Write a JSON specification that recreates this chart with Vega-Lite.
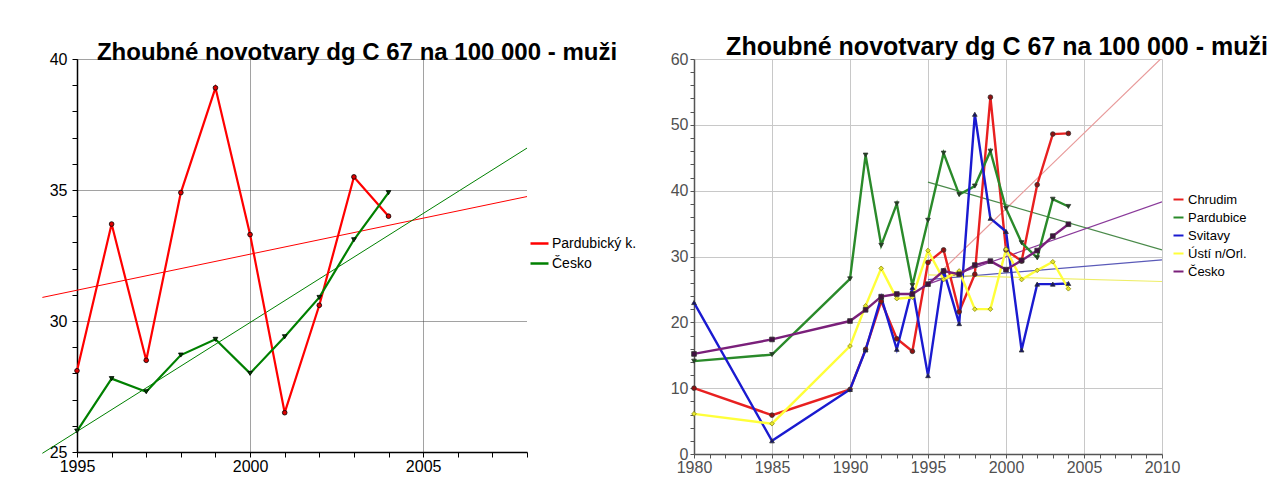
{
  "$schema": "https://vega.github.io/schema/vega-lite/v6.json",
  "background": "white",
  "padding": {"left": 40, "top": 35, "right": 0, "bottom": 0},
  "bounds": "flush",
  "spacing": 167,
  "config": {
    "font": "Liberation Sans",
    "view": {"stroke": null},
    "axis": {"labelFont": "Liberation Sans", "labelOverlap": false, "labelFlush": false}
  },
  "datasets": {
    "left": [
      {"year": 1995, "value": 28.1, "series": "Pardubický k."},
      {"year": 1996, "value": 33.7, "series": "Pardubický k."},
      {"year": 1997, "value": 28.5, "series": "Pardubický k."},
      {"year": 1998, "value": 34.9, "series": "Pardubický k."},
      {"year": 1999, "value": 38.9, "series": "Pardubický k."},
      {"year": 2000, "value": 33.3, "series": "Pardubický k."},
      {"year": 2001, "value": 26.5, "series": "Pardubický k."},
      {"year": 2002, "value": 30.6, "series": "Pardubický k."},
      {"year": 2003, "value": 35.5, "series": "Pardubický k."},
      {"year": 2004, "value": 34.0, "series": "Pardubický k."},
      {"year": 1995, "value": 25.8, "series": "Česko"},
      {"year": 1996, "value": 27.8, "series": "Česko"},
      {"year": 1997, "value": 27.3, "series": "Česko"},
      {"year": 1998, "value": 28.7, "series": "Česko"},
      {"year": 1999, "value": 29.3, "series": "Česko"},
      {"year": 2000, "value": 28.0, "series": "Česko"},
      {"year": 2001, "value": 29.4, "series": "Česko"},
      {"year": 2002, "value": 30.9, "series": "Česko"},
      {"year": 2003, "value": 33.1, "series": "Česko"},
      {"year": 2004, "value": 34.9, "series": "Česko"}
    ],
    "leftTrend": [
      {"year": 1994, "value": 30.9, "series": "Pardubický k."},
      {"year": 2008, "value": 34.75, "series": "Pardubický k."},
      {"year": 1994, "value": 24.95, "series": "Česko"},
      {"year": 2008, "value": 36.6, "series": "Česko"}
    ],
    "right": [
      {"year": 1980, "value": 10.0, "series": "Chrudim"},
      {"year": 1985, "value": 5.9, "series": "Chrudim"},
      {"year": 1990, "value": 9.8, "series": "Chrudim"},
      {"year": 1991, "value": 15.9, "series": "Chrudim"},
      {"year": 1992, "value": 23.2, "series": "Chrudim"},
      {"year": 1993, "value": 17.5, "series": "Chrudim"},
      {"year": 1994, "value": 15.6, "series": "Chrudim"},
      {"year": 1995, "value": 29.1, "series": "Chrudim"},
      {"year": 1996, "value": 31.0, "series": "Chrudim"},
      {"year": 1997, "value": 21.6, "series": "Chrudim"},
      {"year": 1998, "value": 27.3, "series": "Chrudim"},
      {"year": 1999, "value": 54.2, "series": "Chrudim"},
      {"year": 2000, "value": 31.0, "series": "Chrudim"},
      {"year": 2001, "value": 29.3, "series": "Chrudim"},
      {"year": 2002, "value": 40.9, "series": "Chrudim"},
      {"year": 2003, "value": 48.6, "series": "Chrudim"},
      {"year": 2004, "value": 48.7, "series": "Chrudim"},
      {"year": 1980, "value": 14.1, "series": "Pardubice"},
      {"year": 1985, "value": 15.1, "series": "Pardubice"},
      {"year": 1990, "value": 26.6, "series": "Pardubice"},
      {"year": 1991, "value": 45.4, "series": "Pardubice"},
      {"year": 1992, "value": 31.7, "series": "Pardubice"},
      {"year": 1993, "value": 38.0, "series": "Pardubice"},
      {"year": 1994, "value": 25.6, "series": "Pardubice"},
      {"year": 1995, "value": 35.5, "series": "Pardubice"},
      {"year": 1996, "value": 45.7, "series": "Pardubice"},
      {"year": 1997, "value": 39.4, "series": "Pardubice"},
      {"year": 1998, "value": 40.7, "series": "Pardubice"},
      {"year": 1999, "value": 46.0, "series": "Pardubice"},
      {"year": 2000, "value": 37.3, "series": "Pardubice"},
      {"year": 2001, "value": 32.1, "series": "Pardubice"},
      {"year": 2002, "value": 29.8, "series": "Pardubice"},
      {"year": 2003, "value": 38.7, "series": "Pardubice"},
      {"year": 2004, "value": 37.6, "series": "Pardubice"},
      {"year": 1980, "value": 23.0, "series": "Svitavy"},
      {"year": 1985, "value": 2.0, "series": "Svitavy"},
      {"year": 1990, "value": 9.8, "series": "Svitavy"},
      {"year": 1991, "value": 15.8, "series": "Svitavy"},
      {"year": 1992, "value": 23.8, "series": "Svitavy"},
      {"year": 1993, "value": 15.9, "series": "Svitavy"},
      {"year": 1994, "value": 25.3, "series": "Svitavy"},
      {"year": 1995, "value": 11.9, "series": "Svitavy"},
      {"year": 1996, "value": 27.9, "series": "Svitavy"},
      {"year": 1997, "value": 19.8, "series": "Svitavy"},
      {"year": 1998, "value": 51.6, "series": "Svitavy"},
      {"year": 1999, "value": 35.8, "series": "Svitavy"},
      {"year": 2000, "value": 33.8, "series": "Svitavy"},
      {"year": 2001, "value": 15.8, "series": "Svitavy"},
      {"year": 2002, "value": 25.8, "series": "Svitavy"},
      {"year": 2003, "value": 25.8, "series": "Svitavy"},
      {"year": 2004, "value": 25.9, "series": "Svitavy"},
      {"year": 1980, "value": 6.1, "series": "Ústí n/Orl."},
      {"year": 1985, "value": 4.6, "series": "Ústí n/Orl."},
      {"year": 1990, "value": 16.4, "series": "Ústí n/Orl."},
      {"year": 1991, "value": 22.5, "series": "Ústí n/Orl."},
      {"year": 1992, "value": 28.2, "series": "Ústí n/Orl."},
      {"year": 1993, "value": 23.6, "series": "Ústí n/Orl."},
      {"year": 1994, "value": 23.8, "series": "Ústí n/Orl."},
      {"year": 1995, "value": 30.9, "series": "Ústí n/Orl."},
      {"year": 1996, "value": 26.5, "series": "Ústí n/Orl."},
      {"year": 1997, "value": 27.8, "series": "Ústí n/Orl."},
      {"year": 1998, "value": 22.0, "series": "Ústí n/Orl."},
      {"year": 1999, "value": 22.0, "series": "Ústí n/Orl."},
      {"year": 2000, "value": 31.1, "series": "Ústí n/Orl."},
      {"year": 2001, "value": 26.5, "series": "Ústí n/Orl."},
      {"year": 2002, "value": 27.9, "series": "Ústí n/Orl."},
      {"year": 2003, "value": 29.2, "series": "Ústí n/Orl."},
      {"year": 2004, "value": 25.1, "series": "Ústí n/Orl."},
      {"year": 1980, "value": 15.2, "series": "Česko"},
      {"year": 1985, "value": 17.4, "series": "Česko"},
      {"year": 1990, "value": 20.2, "series": "Česko"},
      {"year": 1991, "value": 21.9, "series": "Česko"},
      {"year": 1992, "value": 23.9, "series": "Česko"},
      {"year": 1993, "value": 24.3, "series": "Česko"},
      {"year": 1994, "value": 24.3, "series": "Česko"},
      {"year": 1995, "value": 25.8, "series": "Česko"},
      {"year": 1996, "value": 27.8, "series": "Česko"},
      {"year": 1997, "value": 27.3, "series": "Česko"},
      {"year": 1998, "value": 28.7, "series": "Česko"},
      {"year": 1999, "value": 29.3, "series": "Česko"},
      {"year": 2000, "value": 28.0, "series": "Česko"},
      {"year": 2001, "value": 29.4, "series": "Česko"},
      {"year": 2002, "value": 30.9, "series": "Česko"},
      {"year": 2003, "value": 33.1, "series": "Česko"},
      {"year": 2004, "value": 34.9, "series": "Česko"}
    ],
    "rightTrend": [
      {"year": 1995, "value": 25.8, "series": "Chrudim"},
      {"year": 2010, "value": 60.2, "series": "Chrudim"},
      {"year": 1995, "value": 41.3, "series": "Pardubice"},
      {"year": 2010, "value": 31.0, "series": "Pardubice"},
      {"year": 1995, "value": 26.5, "series": "Svitavy"},
      {"year": 2010, "value": 29.5, "series": "Svitavy"},
      {"year": 1995, "value": 27.2, "series": "Ústí n/Orl."},
      {"year": 2010, "value": 26.2, "series": "Ústí n/Orl."},
      {"year": 1995, "value": 25.8, "series": "Česko"},
      {"year": 2010, "value": 38.3, "series": "Česko"}
    ]
  },
  "resolve": {"scale": {"color": "independent"}, "legend": {"color": "independent"}},
  "hconcat": [
    {
      "width": 450,
      "height": 393,
      "title": {"text": "Zhoubné novotvary dg C 67 na 100 000 - muži", "fontSize": 24, "fontWeight": "bold", "color": "#000000", "anchor": "middle", "dx": 55, "dy": 29, "offset": -4, "baseline": "alphabetic", "font": "Liberation Sans"},
      "encoding": {
        "x": {"field": "year", "type": "quantitative", "scale": {"domain": [1995, 2008], "nice": false, "zero": false},
          "axis": {"title": null, "values": [1995,1996,1997,1998,1999,2000,2001,2002,2003,2004,2005,2006,2007,2008], "format": "d",
            "labelExpr": "datum.value % 5 === 0 ? datum.label : ''",
            "grid": true, "gridColor": "#444444", "gridDash": [1, 1], "gridWidth": 1,
            "gridOpacity": {"condition": {"test": "datum.value % 5 === 0", "value": 1}, "value": 0},
            "domainColor": "#000000", "domainWidth": 1.5, "tickColor": "#000000", "tickSize": 5, "tickWidth": 1,
            "labelFontSize": 16, "labelColor": "#000000", "labelPadding": 1}},
        "y": {"field": "value", "type": "quantitative", "scale": {"domain": [25, 40], "nice": false, "zero": false},
          "axis": {"title": null, "values": [25,26,27,28,29,30,31,32,33,34,35,36,37,38,39,40],
            "labelExpr": "datum.value % 5 === 0 ? datum.label : ''",
            "grid": true, "gridColor": "#444444", "gridDash": [1, 1], "gridWidth": 1,
            "gridOpacity": {"condition": {"test": "datum.value % 5 === 0", "value": 1}, "value": 0},
            "domainColor": "#000000", "domainWidth": 1.5, "tickColor": "#000000", "tickSize": 5, "tickWidth": 1,
            "labelFontSize": 16, "labelColor": "#000000", "labelPadding": 5}}
      },
      "layer": [
        {
          "data": {"name": "leftTrend"},
          "mark": {"type": "line", "strokeWidth": 1, "clip": false},
          "encoding": {
            "color": {"field": "series", "type": "nominal", "scale": {"domain": ["Pardubický k.", "Česko"], "range": ["#ff0000", "#008000"]},
              "legend": {"title": null, "orient": "none", "legendX": 452, "legendY": 174, "symbolType": "stroke", "symbolStrokeWidth": 2.5, "symbolSize": 324, "labelFontSize": 14, "labelColor": "#000000", "labelFont": "Liberation Sans", "rowPadding": 2, "labelOffset": 2}}
          }
        },
        {
          "data": {"name": "left"},
          "mark": {"type": "line", "strokeWidth": 2.2},
          "encoding": {
            "color": {"field": "series", "type": "nominal", "scale": {"domain": ["Pardubický k.", "Česko"], "range": ["#ff0000", "#008000"]},
              "legend": {"title": null, "orient": "none", "legendX": 452, "legendY": 174, "symbolType": "stroke", "symbolStrokeWidth": 2.5, "symbolSize": 324, "labelFontSize": 14, "labelColor": "#000000", "labelFont": "Liberation Sans", "rowPadding": 2, "labelOffset": 2}}
          }
        },
        {
          "data": {"name": "left"},
          "transform": [{"filter": {"field": "series", "equal": "Pardubický k."}}],
          "mark": {"type": "point", "shape": "circle", "filled": true, "size": 22, "fill": "#dd0000", "stroke": "#000000", "strokeWidth": 0.8, "opacity": 1}
        },
        {
          "data": {"name": "left"},
          "transform": [{"filter": {"field": "series", "equal": "Česko"}}],
          "mark": {"type": "point", "shape": "triangle-down", "filled": true, "size": 22, "fill": "#004400", "stroke": "#000000", "strokeWidth": 0.8, "opacity": 1}
        }
      ]
    },
    {
      "width": 468,
      "height": 395,
      "title": {"text": "Zhoubné novotvary dg C 67 na 100 000 - muži", "fontSize": 25, "fontWeight": "bold", "color": "#000000", "anchor": "middle", "dx": 69, "dy": 23, "offset": -6, "baseline": "alphabetic", "font": "Liberation Sans"},
      "encoding": {
        "x": {"field": "year", "type": "quantitative", "scale": {"domain": [1980, 2010], "nice": false, "zero": false},
          "axis": {"title": null, "values": [1980,1981,1982,1983,1984,1985,1986,1987,1988,1989,1990,1991,1992,1993,1994,1995,1996,1997,1998,1999,2000,2001,2002,2003,2004,2005,2006,2007,2008,2009,2010], "format": "d",
            "labelExpr": "datum.value % 5 === 0 ? datum.label : ''",
            "grid": true, "gridColor": "#c8c8c8", "gridWidth": 1,
            "gridOpacity": {"condition": {"test": "datum.value % 5 === 0", "value": 1}, "value": 0},
            "domainColor": "#555555", "domainWidth": 1.5, "tickColor": "#555555", "tickSize": 4, "tickWidth": 1,
            "labelFontSize": 16, "labelColor": "#505050", "labelPadding": 1}},
        "y": {"field": "value", "type": "quantitative", "scale": {"domain": [0, 60], "nice": false, "zero": false},
          "axis": {"title": null, "values": [0,2,4,6,8,10,12,14,16,18,20,22,24,26,28,30,32,34,36,38,40,42,44,46,48,50,52,54,56,58,60],
            "labelExpr": "datum.value % 10 === 0 ? datum.label : ''",
            "grid": true, "gridColor": "#c8c8c8", "gridWidth": 1,
            "gridOpacity": {"condition": {"test": "datum.value % 10 === 0", "value": 1}, "value": 0},
            "domainColor": "#555555", "domainWidth": 1.5, "tickColor": "#555555", "tickSize": 4, "tickWidth": 1,
            "labelFontSize": 16, "labelColor": "#505050", "labelPadding": 2}}
      },
      "layer": [
        {"data": {"name": "rightTrend"}, "transform": [{"filter": {"field": "series", "equal": "Chrudim"}}], "mark": {"type": "line", "strokeWidth": 1.2, "color": "#e89a9a", "clip": true}},
        {"data": {"name": "rightTrend"}, "transform": [{"filter": {"field": "series", "equal": "Pardubice"}}], "mark": {"type": "line", "strokeWidth": 1.2, "color": "#4a8a4a", "clip": true}},
        {"data": {"name": "rightTrend"}, "transform": [{"filter": {"field": "series", "equal": "Svitavy"}}], "mark": {"type": "line", "strokeWidth": 1.2, "color": "#5a5ab8", "clip": true}},
        {"data": {"name": "rightTrend"}, "transform": [{"filter": {"field": "series", "equal": "Ústí n/Orl."}}], "mark": {"type": "line", "strokeWidth": 1.2, "color": "#eeee66", "clip": true}},
        {"data": {"name": "rightTrend"}, "transform": [{"filter": {"field": "series", "equal": "Česko"}}], "mark": {"type": "line", "strokeWidth": 1.2, "color": "#8a3a9a", "clip": true}},
        {
          "data": {"name": "right"},
          "mark": {"type": "line", "strokeWidth": 2.4},
          "encoding": {
            "color": {"field": "series", "type": "nominal", "scale": {"domain": ["Chrudim", "Pardubice", "Svitavy", "Ústí n/Orl.", "Česko"], "range": ["#e82020", "#2a8a2a", "#1a1ad0", "#ffff3a", "#7a207a"]},
              "legend": {"title": null, "orient": "none", "legendX": 478, "legendY": 134, "symbolType": "stroke", "symbolStrokeWidth": 2, "symbolSize": 100, "labelFontSize": 13, "labelColor": "#000000", "labelFont": "Liberation Sans", "rowPadding": 4, "labelOffset": 3}}
          }
        },
        {"data": {"name": "right"}, "transform": [{"filter": {"field": "series", "equal": "Chrudim"}}], "mark": {"type": "point", "shape": "circle", "filled": true, "size": 22, "fill": "#901010", "stroke": "#333333", "strokeWidth": 0.8, "opacity": 1}},
        {"data": {"name": "right"}, "transform": [{"filter": {"field": "series", "equal": "Pardubice"}}], "mark": {"type": "point", "shape": "triangle-down", "filled": true, "size": 22, "fill": "#1a4a1a", "stroke": "#333333", "strokeWidth": 0.8, "opacity": 1}},
        {"data": {"name": "right"}, "transform": [{"filter": {"field": "series", "equal": "Svitavy"}}], "mark": {"type": "point", "shape": "triangle-up", "filled": true, "size": 22, "fill": "#101070", "stroke": "#333333", "strokeWidth": 0.8, "opacity": 1}},
        {"data": {"name": "right"}, "transform": [{"filter": {"field": "series", "equal": "Ústí n/Orl."}}], "mark": {"type": "point", "shape": "diamond", "filled": true, "size": 22, "fill": "#e8e830", "stroke": "#8a8a10", "strokeWidth": 0.8, "opacity": 1}},
        {"data": {"name": "right"}, "transform": [{"filter": {"field": "series", "equal": "Česko"}}], "mark": {"type": "point", "shape": "square", "filled": true, "size": 22, "fill": "#401040", "stroke": "#333333", "strokeWidth": 0.8, "opacity": 1}}
      ]
    }
  ]
}
